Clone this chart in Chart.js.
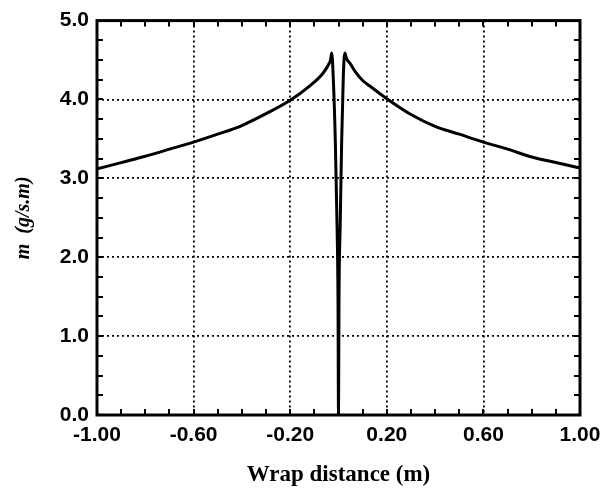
<!DOCTYPE html>
<html>
<head>
<meta charset="utf-8">
<script src="https://cdn.jsdelivr.net/npm/chart.js@4/dist/chart.umd.min.js"></script>
<style>
  body { margin: 0; background: #fff; }
  #wrap { width: 611px; height: 489px; }
</style>
</head>
<body>
<div id="wrap"><canvas id="massChartId" width="611" height="489"></canvas></div>
<script>
// wrap distance (m) and m (g/s.m)
const wrapDist = [-1.00, -0.90, -0.80, -0.70, -0.60, -0.50, -0.40, -0.30, -0.20, -0.12, -0.065, -0.040, -0.033, -0.028,
    -0.022, -0.013, -0.006, -0.002, 0.000,
    0.002, 0.007, 0.013, 0.020, 0.026, 0.033, 0.047, 0.07, 0.10, 0.13, 0.20, 0.30, 0.40, 0.50, 0.60, 0.70, 0.80, 0.90, 1.00];
const massRate = [3.12, 3.20, 3.28, 3.37, 3.46, 3.56, 3.67, 3.82, 3.99, 4.17, 4.33, 4.45, 4.50, 4.59,
    4.30, 3.45, 2.40, 1.45, 0.00,
    1.45, 2.40, 3.45, 4.30, 4.59, 4.52, 4.46, 4.35, 4.24, 4.17, 4.01, 3.81, 3.66, 3.56, 3.46, 3.37, 3.27, 3.20, 3.13];

const xTicks = [-1.00, -0.60, -0.20, 0.20, 0.60, 1.00];
const yTicks = [0, 1, 2, 3, 4, 5];
const xMinorStep = 0.1;
const yMinorStep = 0.25;

const tickFont = { family: 'Liberation Sans, Arial, sans-serif', size: 21, weight: 'bold' };

// frame + inward minor ticks on all four sides
const frameTicks = {
    id: 'frameTicks',
    afterDraw(chart) {
        const ctx = chart.ctx;
        const a = chart.chartArea;
        const xs = chart.scales.x, ys = chart.scales.y;
        ctx.save();
        ctx.strokeStyle = '#000';
        ctx.lineWidth = 2;
        ctx.beginPath();
        for (let v = -1; v <= 1.0001; v += xMinorStep) {
            const px = Math.round(xs.getPixelForValue(v));
            ctx.moveTo(px, a.bottom); ctx.lineTo(px, a.bottom - 6);
            ctx.moveTo(px, a.top); ctx.lineTo(px, a.top + 6);
        }
        for (let v = 0; v <= 5.0001; v += yMinorStep) {
            const py = Math.round(ys.getPixelForValue(v));
            ctx.moveTo(a.left, py); ctx.lineTo(a.left + 6, py);
            ctx.moveTo(a.right, py); ctx.lineTo(a.right - 6, py);
        }
        ctx.stroke();
        ctx.lineWidth = 3;
        ctx.strokeRect(a.left, a.top, a.right - a.left, a.bottom - a.top);
        ctx.restore();
    }
};

const ctx = document.getElementById('massChartId').getContext('2d');
new Chart(ctx, {
    type: 'line',
    data: {
        datasets: [{
            data: wrapDist.map((x, i) => ({ x: x, y: massRate[i] })),
            borderColor: '#000',
            borderWidth: 3,
            pointRadius: 0,
            cubicInterpolationMode: 'monotone',
            fill: false
        }]
    },
    options: {
        responsive: false,
        devicePixelRatio: 1,
        animation: false,
        layout: { padding: { left: 0, right: 31, top: 17, bottom: 0 } },
        plugins: {
            legend: { display: false },
            tooltip: { enabled: false }
        },
        scales: {
            x: {
                type: 'linear',
                min: -1,
                max: 1,
                afterBuildTicks: (scale) => { scale.ticks = xTicks.map(v => ({ value: v })); },
                afterFit: (scale) => { scale.height = 74; },
                ticks: {
                    color: '#000',
                    font: tickFont,
                    padding: 8,
                    maxRotation: 0,
                    callback: (v) => Number(v).toFixed(2)
                },
                grid: {
                    color: '#000',
                    lineWidth: 1.8,
                    drawTicks: false,
                    tickLength: 0
                },
                border: { display: false, dash: [2, 3] },
                title: {
                    display: true,
                    text: 'Wrap distance (m)',
                    color: '#000',
                    font: { family: 'Liberation Serif, Times New Roman, serif', size: 23, weight: 'bold' },
                    padding: { top: 7, bottom: 0 }
                }
            },
            y: {
                min: 0,
                max: 5,
                afterBuildTicks: (scale) => { scale.ticks = yTicks.map(v => ({ value: v })); },
                afterFit: (scale) => { scale.width = 97; },
                ticks: {
                    color: '#000',
                    font: tickFont,
                    padding: 8,
                    callback: (v) => Number(v).toFixed(1)
                },
                grid: {
                    color: '#000',
                    lineWidth: 1.8,
                    drawTicks: false,
                    tickLength: 0
                },
                border: { display: false, dash: [2, 3] },
                title: {
                    display: true,
                    text: 'm  (g/s.m)',
                    color: '#000',
                    font: { family: 'Liberation Serif, Times New Roman, serif', size: 20, weight: 'bold', style: 'italic' },
                    padding: { top: 12, bottom: 0 }
                }
            }
        }
    },
    plugins: [frameTicks]
});
</script>
</body>
</html>
